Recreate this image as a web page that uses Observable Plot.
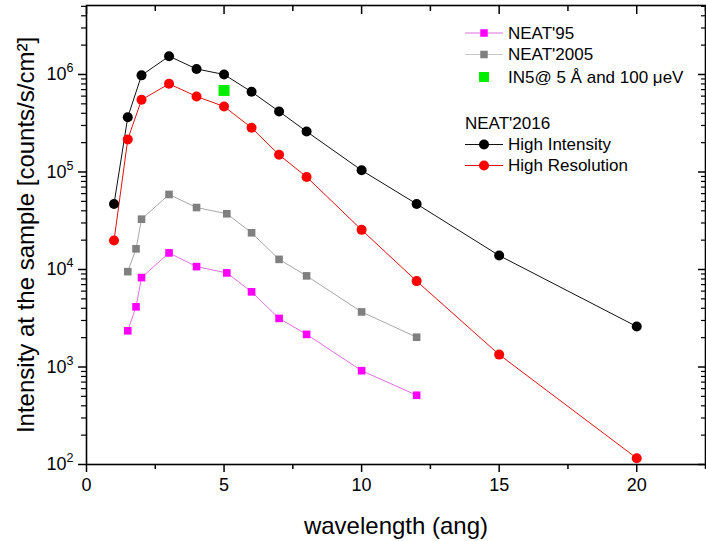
<!DOCTYPE html>
<html>
<head>
<meta charset="utf-8">
<script src="https://cdn.jsdelivr.net/npm/d3@7"></script>
<script src="https://cdn.jsdelivr.net/npm/@observablehq/plot@0.6"></script>
<style>
  html, body { margin: 0; padding: 0; background: #fff; }
  #chart svg { display: block; }
</style>
</head>
<body>
<div id="chart"></div>
<script>
// ---- data ----
const wl2016 = [1, 1.5, 2, 3, 4, 5, 6, 7, 8, 10, 12, 15, 20];
const highIntensity = [47000, 365000, 980000, 1540000, 1140000, 1000000, 664000, 418000, 260000, 104000, 47000, 13900, 2600];
const highResolution = [19800, 216000, 550000, 802000, 595000, 470000, 284000, 150000, 89000, 25500, 7600, 1340, 116];

const wlOld = [1.5, 1.8, 2, 3, 4, 5.1, 6, 7, 8, 10, 12];
const neat2005 = [9500, 16300, 32800, 58800, 43200, 37300, 23800, 12700, 8600, 3670, 2020];
const neat95 = [2350, 4140, 8260, 14800, 10700, 9230, 5900, 3150, 2160, 917, 513];

const in5X = [5];
const in5Y = [686000];

const xMajor = [0, 5, 10, 15, 20];
const xMinor = [2.5, 7.5, 12.5, 17.5, 22.5];
const yMajor = [1e2, 1e3, 1e4, 1e5, 1e6];
const yMinorMult = [2, 3, 4, 5, 6, 7, 8, 9];

const xTitle = "wavelength (ang)";
const yTitle = "Intensity at the sample [counts/s/cm²]";

const legendLabels = ["NEAT'95", "NEAT'2005", "IN5@ 5 Å and 100 μeV", "NEAT'2016", "High Intensity", "High Resolution"];

// ---- build tables ----
const rows = (xs, ys) => xs.map((x, i) => ({x, y: ys[i]}));
const dHI = rows(wl2016, highIntensity);
const dHR = rows(wl2016, highResolution);
const d05 = rows(wlOld, neat2005);
const d95 = rows(wlOld, neat95);
const dIN5 = rows(in5X, in5Y);

const yMinor = [];
for (const dec of [1e2, 1e3, 1e4, 1e5, 1e6]) for (const m of yMinorMult) { const v = dec * m; if (v <= 5.1e6) yMinor.push(v); }

const C = {
  m95line: "#e070e0", m95: "#ff00ff",
  g05line: "#a8a8a8", g05: "#808080",
  in5: "#00ee00",
  hiLine: "#111111", hi: "#000000",
  hrLine: "#e01010", hr: "#ff0000"
};

const W = 706, H = 541;
const sq = 4.3; // square symbol radius
const fontFam = "'Liberation Sans', Arial, Helvetica, sans-serif";

const chart = Plot.plot({
  width: W, height: H,
  marginLeft: 86, marginRight: 1, marginTop: 5, marginBottom: 77,
  style: {fontFamily: fontFam, fontSize: "18px", background: "#fff", color: "#000"},
  x: {domain: [0, 22.5]},
  y: {type: "log", domain: [100, 5.1e6]},
  marks: [
    // lines
    Plot.line(d95, {x: "x", y: "y", stroke: C.m95line, strokeWidth: 1}),
    Plot.line(d05, {x: "x", y: "y", stroke: C.g05line, strokeWidth: 1}),
    Plot.line(dHR, {x: "x", y: "y", stroke: C.hrLine, strokeWidth: 1}),
    Plot.line(dHI, {x: "x", y: "y", stroke: C.hiLine, strokeWidth: 1}),
    // markers
    Plot.dot(d95, {x: "x", y: "y", symbol: "square", r: sq, fill: C.m95}),
    Plot.dot(d05, {x: "x", y: "y", symbol: "square", r: sq, fill: C.g05}),
    Plot.dot(dIN5, {x: "x", y: "y", symbol: "square", r: 6.2, fill: C.in5}),
    Plot.dot(dHR, {x: "x", y: "y", symbol: "circle", r: 5, fill: C.hr}),
    Plot.dot(dHI, {x: "x", y: "y", symbol: "circle", r: 5, fill: C.hi}),
    // axes: bottom (outward) & top (inward)
    Plot.axisX(xMajor, {anchor: "bottom", tickSize: 8, tickPadding: 6, fontSize: 18, strokeWidth: 1.5, tickFormat: d => String(d), label: null}),
    Plot.axisX(xMinor, {anchor: "bottom", tickSize: 5, strokeWidth: 1.5, fill: "none", label: null}),
    Plot.axisX(xMajor, {anchor: "top", tickSize: 8, dy: 8, strokeWidth: 1.5, fill: "none", label: null}),
    Plot.axisX(xMinor, {anchor: "top", tickSize: 5, dy: 5, strokeWidth: 1.5, fill: "none", label: null}),
    // axes: left (outward) & right (inward)
    Plot.axisY(yMajor, {anchor: "left", tickSize: 8, tickPadding: 5, fontSize: 18, strokeWidth: 1.5, tickFormat: d => "10^" + Math.round(Math.log10(d)), label: null}),
    Plot.axisY(yMinor, {anchor: "left", tickSize: 5, strokeWidth: 1.2, fill: "none", label: null}),
    Plot.axisY(yMajor, {anchor: "right", tickSize: 8, dx: -8, strokeWidth: 1.5, fill: "none", label: null}),
    Plot.axisY(yMinor, {anchor: "right", tickSize: 5, dx: -5, strokeWidth: 1.2, fill: "none", label: null}),
    Plot.frame({stroke: "#000", strokeWidth: 1.6}),
    // axis titles
    Plot.text([xTitle], {text: d => d, frameAnchor: "bottom", dy: 69, lineAnchor: "bottom", textAnchor: "middle", fontSize: 24, fill: "#000"}),
    Plot.text([yTitle], {text: d => d, frameAnchor: "left", dx: -53, rotate: -90, lineAnchor: "bottom", textAnchor: "middle", fontSize: 24, fill: "#000"})
  ]
});

document.getElementById("chart").appendChild(chart);

// superscript exponents on y tick labels
d3.select(chart).selectAll('g[aria-label="y-axis tick label"] text').each(function () {
  const t = d3.select(this);
  const s = t.text();
  if (!s.includes("^")) return;
  const [b, e] = s.split("^");
  t.text(b);
  t.append("tspan").attr("dy", "-8").attr("font-size", "12.5").text(e);
});

// legend (inside the plot, top-right)
const lg = d3.select(chart).append("g")
  .attr("font-family", fontFam).attr("font-size", 17).attr("fill", "#000").attr("text-anchor", "start");
const lx0 = 465, lx1 = 503, mx = 484, tx = 508;
const items = [
  {y: 33, line: C.m95line, marker: "square", fill: C.m95, s: 7.5, label: legendLabels[0]},
  {y: 54.5, line: "#c8c8c8", marker: "square", fill: C.g05, s: 7.5, label: legendLabels[1]},
  {y: 77, line: null, marker: "square", fill: C.in5, s: 10, label: legendLabels[2]},
  {y: 123, header: true, label: legendLabels[3]},
  {y: 144.5, line: C.hiLine, marker: "circle", fill: C.hi, s: 10, label: legendLabels[4]},
  {y: 165.5, line: C.hrLine, marker: "circle", fill: C.hr, s: 10, label: legendLabels[5]}
];
for (const it of items) {
  if (it.header) {
    lg.append("text").attr("x", lx0).attr("y", it.y).attr("dy", "0.35em").attr("text-anchor", "start").text(it.label);
    continue;
  }
  if (it.line) lg.append("line").attr("x1", lx0).attr("x2", lx1).attr("y1", it.y).attr("y2", it.y).attr("stroke", it.line).attr("stroke-width", 1);
  if (it.marker === "square") lg.append("rect").attr("x", mx - it.s / 2).attr("y", it.y - it.s / 2).attr("width", it.s).attr("height", it.s).attr("fill", it.fill);
  else lg.append("circle").attr("cx", mx).attr("cy", it.y).attr("r", it.s / 2).attr("fill", it.fill);
  lg.append("text").attr("x", tx).attr("y", it.y).attr("dy", "0.35em").attr("text-anchor", "start").text(it.label);
}
</script>
</body>
</html>
